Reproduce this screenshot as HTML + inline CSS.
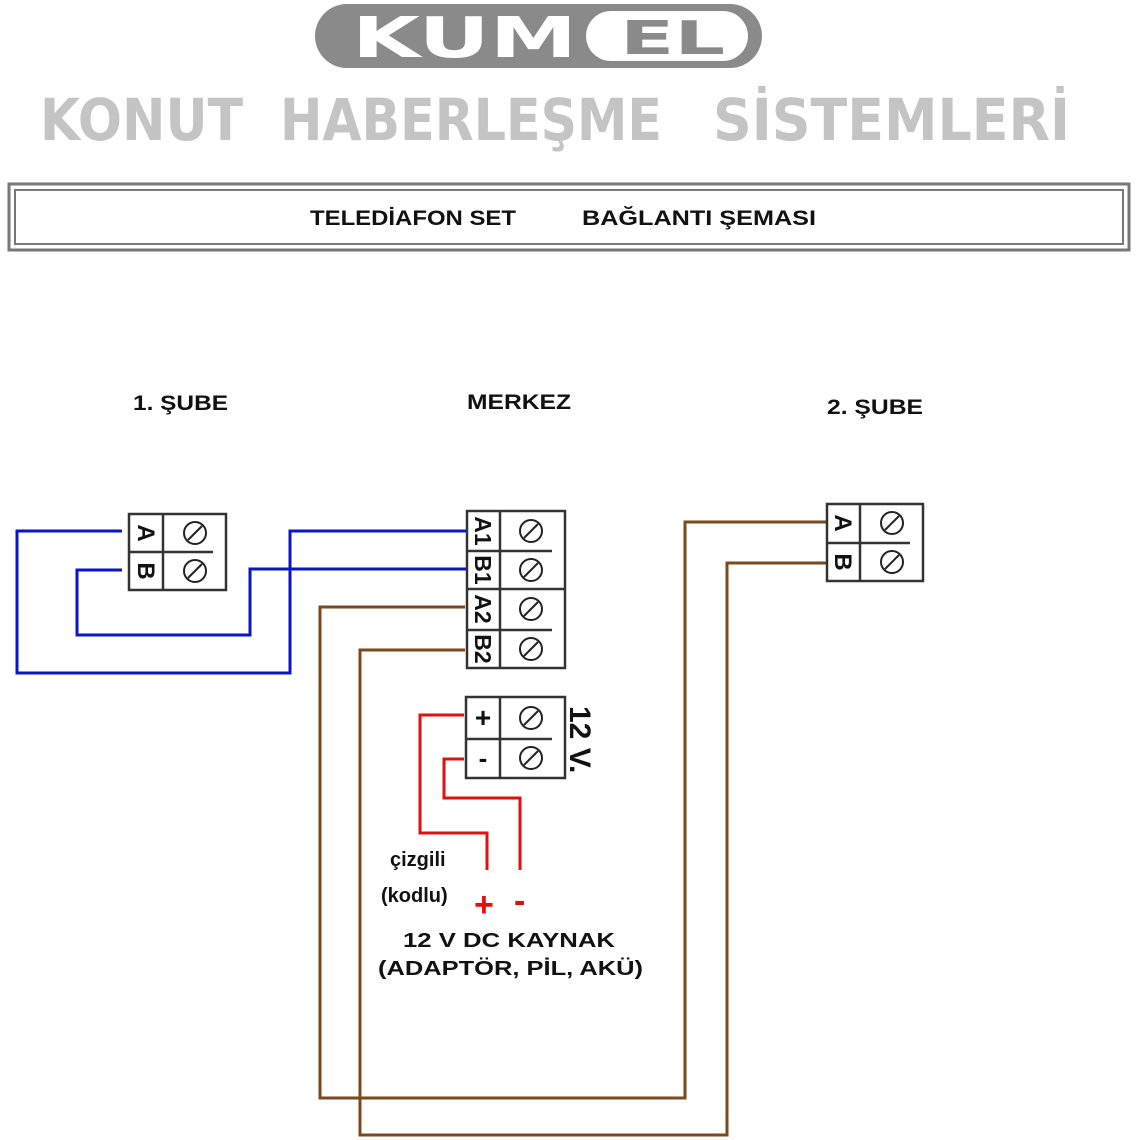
<!DOCTYPE html>
<html><head><meta charset="utf-8"><style>html,body{margin:0;padding:0;background:#fff}svg{display:block}</style></head>
<body>
<svg width="1140" height="1140" viewBox="0 0 1140 1140" xmlns="http://www.w3.org/2000/svg" font-family="Liberation Sans, DejaVu Sans, sans-serif">
<defs>
<g id="screw"><circle r="11" fill="none" stroke="#222" stroke-width="2"/><line x1="-7" y1="7" x2="7" y2="-7" stroke="#222" stroke-width="2"/></g>
</defs>
<rect x="315" y="4" width="447" height="64" rx="32" fill="#8a8a8a"/>
<text x="352" y="57" font-size="56" font-weight="bold" fill="#fff" textLength="225" lengthAdjust="spacingAndGlyphs" font-family="DejaVu Sans, sans-serif">KUM</text>
<rect x="586" y="11" width="162" height="50" rx="25" fill="#fff"/>
<text x="620" y="54" font-size="46" font-weight="bold" fill="#8a8a8a" textLength="105" lengthAdjust="spacingAndGlyphs" font-family="DejaVu Sans, sans-serif">EL</text>
<g font-size="58" font-weight="bold" fill="#c4c4c4" font-family="DejaVu Sans, sans-serif">
<text x="40" y="140" textLength="203" lengthAdjust="spacingAndGlyphs">KONUT</text>
<text x="280" y="140" textLength="382" lengthAdjust="spacingAndGlyphs">HABERLEŞME</text>
<text x="713" y="140" textLength="357" lengthAdjust="spacingAndGlyphs">SİSTEMLERİ</text>
</g>
<rect x="9" y="184" width="1120" height="66" fill="none" stroke="#777" stroke-width="3"/>
<rect x="15" y="190" width="1108" height="54" fill="none" stroke="#777" stroke-width="2"/>
<g font-size="21" font-weight="bold" fill="#111">
<text x="310" y="225" textLength="206" lengthAdjust="spacingAndGlyphs">TELEDİAFON SET</text>
<text x="582" y="225" textLength="234" lengthAdjust="spacingAndGlyphs">BAĞLANTI ŞEMASI</text>
<text x="133" y="410" textLength="95" lengthAdjust="spacingAndGlyphs">1. ŞUBE</text>
<text x="467" y="409" textLength="104" lengthAdjust="spacingAndGlyphs">MERKEZ</text>
<text x="827" y="414" textLength="96" lengthAdjust="spacingAndGlyphs">2. ŞUBE</text>
</g>
<g fill="none" stroke-width="3">
<polyline points="122,531 17,531 17,673 290,673 290,531 467,531" stroke="#0a14c8"/>
<polyline points="122,570 77,570 77,635 250,635 250,569 467,569" stroke="#0a14c8"/>
<polyline points="465,607 320,607 320,1098 685,1098 685,522 827,522" stroke="#7a4a1e"/>
<polyline points="465,650 360,650 360,1135 727,1135 727,563 827,563" stroke="#7a4a1e"/>
<polyline points="464,715 420,715 420,833 487,833 487,870" stroke="#e01010"/>
<polyline points="464,759 444,759 444,798 520,798 520,870" stroke="#e01010"/>
</g>
<g stroke="#333" stroke-width="2.5" fill="#fff">
<rect x="129" y="514" width="97" height="76"/>
<line x1="163" y1="514" x2="163" y2="590"/>
<line x1="129" y1="552" x2="213" y2="552"/>
</g>
<use href="#screw" x="195" y="533"/><use href="#screw" x="195" y="571"/>
<g font-size="24" font-weight="bold" fill="#111">
<text transform="translate(138,533) rotate(90)" text-anchor="middle">A</text>
<text transform="translate(138,571) rotate(90)" text-anchor="middle">B</text>
</g>
<g stroke="#333" stroke-width="2.5" fill="#fff">
<rect x="827" y="504" width="96" height="77"/>
<line x1="860" y1="504" x2="860" y2="581"/>
<line x1="827" y1="543" x2="910" y2="543"/>
</g>
<use href="#screw" x="892" y="523"/><use href="#screw" x="892" y="562"/>
<g font-size="24" font-weight="bold" fill="#111">
<text transform="translate(835,523) rotate(90)" text-anchor="middle">A</text>
<text transform="translate(835,562) rotate(90)" text-anchor="middle">B</text>
</g>
<g stroke="#333" stroke-width="2.5" fill="#fff">
<rect x="467" y="511" width="98" height="157"/>
<line x1="500" y1="511" x2="500" y2="668"/>
<line x1="467" y1="551" x2="552" y2="551"/>
<line x1="467" y1="589" x2="565" y2="589"/>
<line x1="467" y1="630" x2="552" y2="630"/>
</g>
<use href="#screw" x="531" y="531"/><use href="#screw" x="531" y="570"/><use href="#screw" x="531" y="609"/><use href="#screw" x="531" y="649"/>
<g font-size="23" font-weight="bold" fill="#111">
<text transform="translate(475,531) rotate(90)" text-anchor="middle">A1</text>
<text transform="translate(475,570) rotate(90)" text-anchor="middle">B1</text>
<text transform="translate(475,609) rotate(90)" text-anchor="middle">A2</text>
<text transform="translate(475,649) rotate(90)" text-anchor="middle">B2</text>
</g>
<g stroke="#333" stroke-width="2.5" fill="#fff">
<rect x="466" y="697" width="99" height="81"/>
<line x1="500" y1="697" x2="500" y2="778"/>
<line x1="466" y1="739" x2="552" y2="739"/>
</g>
<use href="#screw" x="531" y="718"/><use href="#screw" x="531" y="758"/>
<text x="483" y="727" font-size="28" font-weight="bold" text-anchor="middle" fill="#111">+</text>
<text x="483" y="767" font-size="26" font-weight="bold" text-anchor="middle" fill="#111">-</text>
<text transform="translate(570,706) rotate(90)" font-size="30" font-weight="bold" fill="#111">12 V.</text>
<g font-size="20" font-weight="bold" fill="#111">
<text x="390" y="866">çizgili</text>
<text x="381" y="902">(kodlu)</text>
<text x="403" y="947" textLength="212" lengthAdjust="spacingAndGlyphs">12 V DC KAYNAK</text>
<text x="378" y="975" textLength="265" lengthAdjust="spacingAndGlyphs">(ADAPTÖR, PİL, AKÜ)</text>
</g>
<text x="474" y="916" font-size="34" font-weight="bold" fill="#e01010">+</text>
<text x="514" y="912" font-size="34" font-weight="bold" fill="#e01010">-</text>
</svg>
</body></html>
